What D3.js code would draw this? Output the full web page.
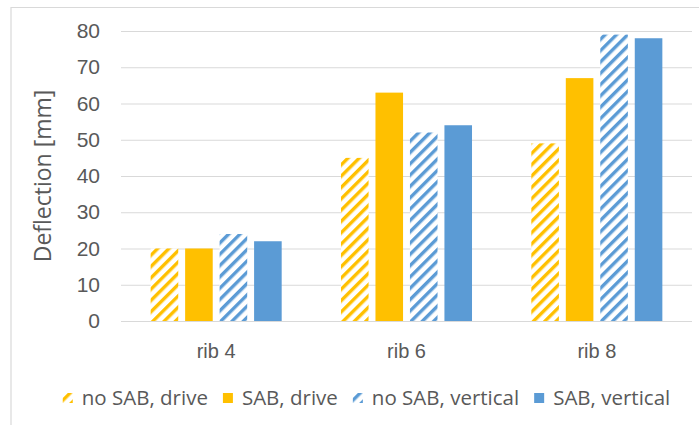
<!DOCTYPE html>
<html>
<head>
<meta charset="utf-8">
<script src="https://cdn.jsdelivr.net/npm/d3@7"></script>
<style>
  html, body { margin: 0; padding: 0; background: #fff; }
  svg { display: block; font-family: "Open Sans", "Liberation Sans", sans-serif; }
</style>
</head>
<body>
<div id="chart"></div>
<script>
// Deflection per rib, with and without SAB, for the drive and vertical directions
const categories = ["rib 4", "rib 6", "rib 8"];
const seriesNames = ["no SAB, drive", "SAB, drive", "no SAB, vertical", "SAB, vertical"];
const noSabDrive = [20, 45, 49];
const sabDrive = [20, 63, 67];
const noSabVertical = [24, 52, 79];
const sabVertical = [22, 54, 78];
const yTicks = [0, 10, 20, 30, 40, 50, 60, 70, 80];

const seriesValues = [noSabDrive, sabDrive, noSabVertical, sabVertical];
const seriesColor = ["#FFC000", "#FFC000", "#5B9BD5", "#5B9BD5"];
const seriesHatched = [true, false, true, false];

const W = 699, H = 425;
const margin = { left: 121, right: 7, top: 31, bottom: 104 };

const svg = d3.select("#chart").append("svg")
  .attr("width", W).attr("height", H);

// Diagonal stripe fills
const defs = svg.append("defs");
["#FFC000", "#5B9BD5"].forEach((c, i) => {
  const p = defs.append("pattern")
    .attr("id", "hatch" + i)
    .attr("patternUnits", "userSpaceOnUse")
    .attr("width", 8).attr("height", 8)
    .attr("patternTransform", "rotate(45)");
  p.append("rect").attr("width", 8).attr("height", 8).attr("fill", "#fff");
  p.append("rect").attr("x", 0).attr("width", 3.4).attr("height", 8).attr("fill", c);
});
const fillFor = i => seriesHatched[i]
  ? `url(#hatch${seriesColor[i] === "#FFC000" ? 0 : 1})`
  : seriesColor[i];

// Chart frame
svg.append("path")
  .attr("d", `M11,${H} V7.5 H${W}`)
  .attr("fill", "none").attr("stroke", "#D9D9D9").attr("stroke-width", 1.2);

const x0 = d3.scaleBand().domain(categories)
  .range([margin.left, W - margin.right]).padding(0);
const x1 = d3.scaleBand().domain(d3.range(seriesNames.length))
  .range([0, x0.bandwidth()]).paddingInner(0.2).paddingOuter(0.86);
const y = d3.scaleLinear().domain([0, 80])
  .range([H - margin.bottom, margin.top]);

// Gridlines and value labels
const yAxis = svg.append("g")
  .attr("transform", `translate(${margin.left},0)`)
  .call(d3.axisLeft(y).tickValues(yTicks).tickSize(-(W - margin.right - margin.left)).tickPadding(21));
yAxis.select(".domain").remove();
yAxis.selectAll(".tick line").attr("stroke", "#D9D9D9").attr("stroke-width", 1.2);
yAxis.selectAll(".tick text")
  .attr("fill", "#595959").style("font-size", "21px");

// Bars
const groups = svg.append("g").selectAll("g")
  .data(categories).join("g")
  .attr("transform", d => `translate(${x0(d)},0)`);
groups.selectAll("rect")
  .data((d, ci) => seriesValues.map((vals, si) => ({ si, v: vals[ci] })))
  .join("rect")
  .attr("x", d => x1(d.si))
  .attr("width", x1.bandwidth())
  .attr("y", d => y(d.v))
  .attr("height", d => y(0) - y(d.v))
  .attr("fill", d => fillFor(d.si));

// Category labels
const xAxis = svg.append("g")
  .attr("transform", `translate(0,${y(0)})`)
  .call(d3.axisBottom(x0).tickSize(0).tickPadding(23));
xAxis.select(".domain").remove();
xAxis.selectAll(".tick text")
  .attr("fill", "#595959").style("font-size", "20px");

// Axis title
svg.append("text")
  .attr("transform", `translate(51,${(y(0) + y(80)) / 2}) rotate(-90)`)
  .attr("text-anchor", "middle")
  .attr("fill", "#595959")
  .style("font-size", "23px")
  .text("Deflection [mm]");

// Legend
const legend = svg.append("g").attr("transform", "translate(0,398)");
const items = legend.selectAll("g").data(seriesNames).join("g");
items.append("rect")
  .attr("x", 0).attr("y", -5).attr("width", 10).attr("height", 10)
  .attr("fill", (d, i) => fillFor(i));
items.append("text")
  .attr("x", 19).attr("dy", "0.35em")
  .attr("fill", "#595959").style("font-size", "20.5px")
  .text(d => d);
let offsets = [], cur = 0;
items.each(function () {
  offsets.push(cur);
  cur += 19 + this.querySelector("text").getComputedTextLength() + 15;
});
const total = cur - 15;
const start = 366.5 - total / 2;
items.attr("transform", (d, i) => `translate(${start + offsets[i]},0)`);
</script>
</body>
</html>
